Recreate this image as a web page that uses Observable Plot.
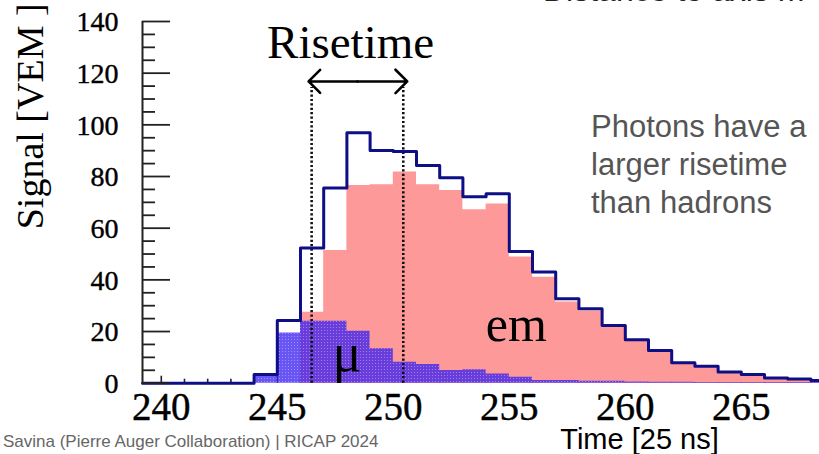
<!DOCTYPE html>
<html>
<head>
<meta charset="utf-8">
<script src="https://cdn.jsdelivr.net/npm/d3@7"></script>
<script src="https://cdn.jsdelivr.net/npm/@observablehq/plot@0.6"></script>
<style>
html, body { margin: 0; padding: 0; background: #fff; overflow: hidden; }
#wrap { position: relative; width: 819px; height: 454px; overflow: hidden; }
.slide { position: absolute; font-family: "Liberation Sans", Arial, sans-serif; white-space: nowrap; }
#topText { left: 543px; top: -26px; font-size: 32px; line-height: 32px; color: #222; }
#note { left: 591px; top: 108px; font-size: 31px; line-height: 38px; color: #555; white-space: pre; }
#credit { left: 3px; top: 432px; font-size: 17px; line-height: 20px; color: #666; }
</style>
</head>
<body>
<div id="wrap">
  <div id="chart"></div>
  <div class="slide" id="topText">Distance to axis m</div>
  <div class="slide" id="note">Photons have a
larger risetime
than hadrons</div>
  <div class="slide" id="credit">Savina (Pierre Auger Collaboration) | RICAP 2024</div>
</div>
<script>
// ---- data ----
const binStart    = [240,241,242,243,244,245,246,247,248,249,250,251,252,253,254,255,256,257,258,259,260,261,262,263,264,265,266,267,268];
const totalSignal = [0,0,0,0,3.4,24.3,52.3,75.6,96.9,90.1,89.7,84.3,79.5,72.2,73.3,51.0,43.0,32.7,28.8,22.3,16.8,12.7,7.9,6.6,4.3,3.4,2.0,1.6,1.0];
const emSignal    = [0,0,0,0,0,0,27.5,51.4,76.5,76.8,81.7,76.8,74.6,67.1,69.4,48.8,41.0,31.4,27.9,21.7,16.3,12.0,7.5,6.2,3.9,3.0,1.7,1.3,0.8];
const muSignal    = [0,0,0,0,2.6,19.4,24.0,24.0,20.1,13.3,8.1,7.2,4.9,5.2,3.6,2.3,1.0,1.0,0.8,0.8,0.5,0.4,0.4,0.3,0.3,0.3,0.3,0.3,0.3];
const xTickValues = [240,245,250,255,260,265];
const yTickValues = [0,20,40,60,80,100,120,140];
const risetimeBounds = [246.48, 250.43];
const xDomain = [239.19, 268.37];
const yDomain = [0, 140];
const labels = { y: "Signal [VEM ]", x: "Time [25 ns]", risetime: "Risetime", em: "em", mu: "μ" };

// ---- layout ----
const W = 819, H = 454;
const mL = 142, mR = 0, mT = 21, mB = 71.3;
const pxX = (W - mL - mR) / (xDomain[1] - xDomain[0]);
const pxY = (H - mT - mB) / (yDomain[1] - yDomain[0]);

const last = binStart.length - 1;
const steps = key => {
  const vals = {total: totalSignal, em: emSignal, mu: muSignal}[key];
  return [{t: xDomain[0], v: 0}, ...binStart.map((t, i) => ({t, v: vals[i]})), {t: binStart[last] + 1, v: vals[last]}];
};

const yMinor = d3.range(yDomain[0], yDomain[1] + 0.1, 5).filter(v => v % 20 !== 0);
const xMinor = d3.range(240, 269, 1).filter(v => v % 5 !== 0);

const NAVY = "#0e0e86";
const PINK = "#fd9999";
const MU = "#3a20f0";
const SERIF = "'Liberation Serif', 'Times New Roman', serif";

const defs = () => {
  const d = document.createElementNS("http://www.w3.org/2000/svg", "defs");
  d.innerHTML = `<pattern id="muDots" patternUnits="userSpaceOnUse" x="0" y="0" width="3" height="3">
    <rect x="0" y="0" width="1" height="1" fill="#ffffff" fill-opacity="0.35"/>
  </pattern>`;
  return d;
};

const chart = Plot.plot({
  width: W, height: H,
  marginLeft: mL, marginRight: mR, marginTop: mT, marginBottom: mB,
  x: {domain: xDomain, axis: null},
  y: {domain: yDomain, axis: null},
  style: {fontFamily: SERIF, background: "transparent", color: "#000"},
  marks: [
    defs,
    // x ticks (inward)
    Plot.ruleX(xTickValues, {y1: 0, y2: 7 / pxY, stroke: "#222", strokeWidth: 1.6}),
    Plot.ruleX(xMinor, {y1: 0, y2: 4 / pxY, stroke: "#222", strokeWidth: 1.6}),
    // em component
    Plot.areaY(steps("em"), {x: "t", y: "v", curve: "step-after", fill: PINK}),
    // muon component (dotted hatch)
    Plot.areaY(steps("mu"), {x: "t", y: "v", curve: "step-after", fill: MU, fillOpacity: 0.76}),
    Plot.areaY(steps("mu"), {x: "t", y: "v", curve: "step-after", fill: "url(#muDots)"}),
    // risetime markers
    Plot.ruleX(risetimeBounds, {y1: 0, y2: 114.5, stroke: "#111", strokeWidth: 2.6, strokeDasharray: "2.2,2.2"}),
    // total trace
    Plot.line(steps("total"), {x: "t", y: "v", curve: "step-after", stroke: NAVY, strokeWidth: 3}),
    // axes lines and y ticks (inward)
    Plot.ruleX([xDomain[0]], {y1: yDomain[0], y2: yDomain[1], stroke: "#222", strokeWidth: 2}),
    Plot.ruleY(yTickValues, {x1: xDomain[0], x2: xDomain[0] + 28 / pxX, stroke: "#222", strokeWidth: 1.8}),
    Plot.ruleY(yMinor, {x1: xDomain[0], x2: xDomain[0] + 13 / pxX, stroke: "#222", strokeWidth: 1.8}),
    // tick labels
    Plot.text(yTickValues, {y: d => d, text: d => `${d}`, frameAnchor: "left", textAnchor: "end", lineAnchor: "middle", dx: -24, dy: 1, fontSize: 28, fontFamily: SERIF, fontVariant: "normal", fill: "#000", stroke: "#000", strokeWidth: 0.4}),
    Plot.text(xTickValues, {x: d => d, text: d => `${d}`, frameAnchor: "bottom", textAnchor: "middle", lineAnchor: "bottom", dy: 36.9, fontSize: 39, fontFamily: SERIF, fontVariant: "normal", fill: "#000", stroke: "#000", strokeWidth: 0.4, ariaLabel: "xticklabels"}),
    // risetime arrow (double headed)
    Plot.arrow([{a: d3.mean(risetimeBounds), b: risetimeBounds[0] - 0.13}, {a: d3.mean(risetimeBounds), b: risetimeBounds[1] + 0.17}],
      {x1: "a", x2: "b", y1: 116.8, y2: 116.8, stroke: "#000", strokeWidth: 2.6, headLength: 19, headAngle: 90}),
    Plot.text([labels.risetime], {x: 248.16, y: 125.7, textAnchor: "middle", lineAnchor: "bottom", fontSize: 47, fontFamily: SERIF, fill: "#000"}),
    Plot.text([labels.em], {x: 255.3, y: 16.5, textAnchor: "middle", lineAnchor: "bottom", fontSize: 50, fontFamily: SERIF, fill: "#000"}),
    Plot.text([labels.mu], {x: 248.0, y: 4.9, textAnchor: "middle", lineAnchor: "bottom", fontSize: 54, fontFamily: SERIF, fill: "#000"}),
    // axis titles
    Plot.text([labels.y], {frameAnchor: "left", textAnchor: "middle", lineAnchor: "bottom", rotate: -90, dx: -100, dy: -86, fontSize: 38, fontFamily: SERIF, fill: "#000"}),
    Plot.text([labels.x], {frameAnchor: "bottom-left", textAnchor: "middle", lineAnchor: "bottom", dx: 497, dy: 66, fontSize: 29, fontFamily: "Liberation Sans", fill: "#000"})
  ]
});

// ROOT-style tall, narrow x tick labels
d3.select(chart).selectAll('g[aria-label="xticklabels"] text').each(function() {
  this.style.fontFamily = SERIF;
  this.style.fontVariant = "normal";
  const t = this.getAttribute("transform") || "";
  this.setAttribute("transform", t + " scale(0.66,1)");
});

document.getElementById("chart").appendChild(chart);
</script>
</body>
</html>
